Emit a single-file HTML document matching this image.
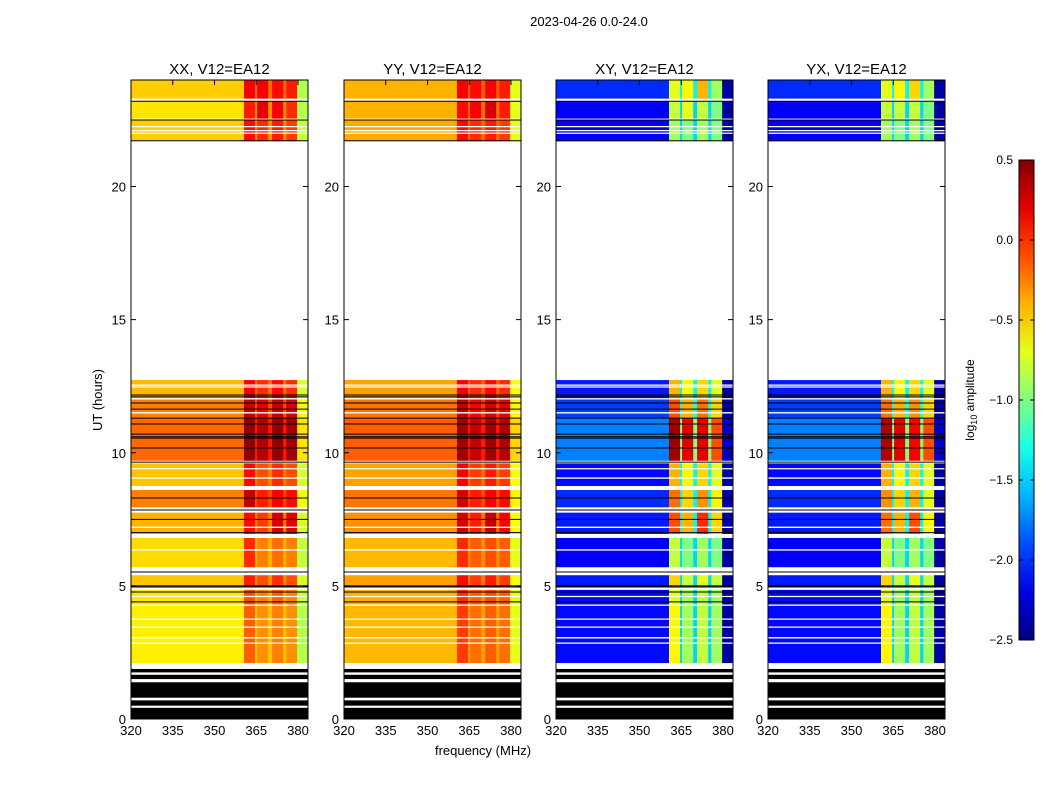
<!DOCTYPE html>
<html><head><meta charset="utf-8"><style>
body{margin:0;background:#fff;}
svg{display:block;font-family:"Liberation Sans",sans-serif;}
</style></head><body>
<svg id="chart" width="1050" height="800" viewBox="0 0 1050 800" xmlns="http://www.w3.org/2000/svg">
<rect width="1050" height="800" fill="#fff"/>
<text x="589" y="26" font-size="13" text-anchor="middle">2023-04-26 0.0-24.0</text>
<text x="102" y="400" font-size="13" text-anchor="middle" transform="rotate(-90 102 400)">UT (hours)</text>
<text x="483" y="755" font-size="13" text-anchor="middle">frequency (MHz)</text>
<g id="panels"></g>
<defs><linearGradient id="jetgrad" x1="0" y1="1" x2="0" y2="0"></linearGradient></defs>
<g id="cbar"></g>
</svg>
<script>
const panelTitles = ["XX, V12=EA12","YY, V12=EA12","XY, V12=EA12","YX, V12=EA12"];
const freqEdges = [320,360.6,364.6,365.3,369.3,370.7,374.7,375.8,379.7,383.6];
const segStart = [2.1,4.3,4.95,5.7,6.95,7.95,8.75,9.7,11.3,12.05,21.7,22.55,23.3];
const segEnd   = [4.25,4.85,5.4,6.8,7.75,8.6,9.6,11.3,12.0,12.73,22.5,23.2,24.0];
const valsXX = [
[-0.58,-0.15,-0.45,-0.3,-0.45,-0.25,-0.45,-0.3,-0.85],
[-0.55,-0.1,-0.4,-0.25,-0.4,-0.15,-0.4,-0.25,-0.8],
[-0.45,0.05,-0.3,-0.1,-0.3,0.0,-0.3,-0.1,-0.75],
[-0.52,0.0,-0.4,-0.25,-0.4,-0.2,-0.4,-0.25,-0.8],
[-0.4,0.1,-0.25,-0.05,-0.25,0.25,-0.25,0.2,-0.75],
[-0.25,0.3,-0.1,0.05,-0.1,0.15,-0.1,0.1,-0.65],
[-0.45,0.1,-0.25,-0.1,-0.25,0.0,-0.25,-0.1,-0.75],
[-0.18,0.45,0.05,0.35,0.05,0.45,0.05,0.4,-0.55],
[-0.25,0.3,-0.1,0.2,-0.1,0.3,-0.1,0.25,-0.65],
[-0.42,0.15,-0.2,0.0,-0.2,0.1,-0.2,0.0,-0.75],
[-0.48,0.1,-0.3,0.0,-0.3,0.05,-0.3,-0.05,-0.8],
[-0.55,0.05,-0.3,0.2,-0.3,0.15,-0.3,0.0,-0.85],
[-0.48,0.15,-0.2,0.15,-0.2,0.1,-0.2,0.05,-0.85]];
const valsYY = [
[-0.42,-0.05,-0.35,-0.2,-0.35,-0.15,-0.35,-0.2,-0.7],
[-0.4,0.0,-0.3,-0.15,-0.3,-0.1,-0.3,-0.15,-0.7],
[-0.35,0.1,-0.25,-0.05,-0.25,0.05,-0.25,-0.05,-0.65],
[-0.42,0.0,-0.3,-0.15,-0.3,-0.1,-0.3,-0.15,-0.7],
[-0.3,0.25,-0.2,0.05,-0.2,0.3,-0.2,0.15,-0.65],
[-0.22,0.25,-0.1,0.05,-0.1,0.15,-0.1,0.1,-0.6],
[-0.35,0.15,-0.2,-0.05,-0.2,0.05,-0.2,-0.05,-0.65],
[-0.15,0.4,0.05,0.3,0.05,0.4,0.05,0.35,-0.5],
[-0.22,0.3,-0.05,0.15,-0.05,0.25,-0.05,0.2,-0.6],
[-0.35,0.15,-0.15,0.0,-0.15,0.1,-0.15,0.0,-0.65],
[-0.38,0.1,-0.2,0.0,-0.2,0.05,-0.2,-0.05,-0.7],
[-0.4,0.1,-0.2,0.15,-0.2,0.25,-0.2,0.05,-0.7],
[-0.4,0.15,-0.15,0.1,-0.15,0.15,-0.15,0.05,-0.7]];
const valsXY = [
[-2.1,-0.6,-1.5,-0.9,-1.5,-0.8,-1.5,-0.9,-2.4],
[-2.1,-0.7,-1.5,-0.9,-1.5,-0.8,-1.5,-0.9,-2.4],
[-2.05,-0.5,-1.5,-0.8,-1.5,-0.7,-1.5,-0.8,-2.4],
[-2.15,-0.8,-1.5,-1.0,-1.5,-0.9,-1.5,-1.0,-2.4],
[-2.05,-0.1,-1.4,-0.4,-1.4,0.0,-1.4,-0.5,-2.4],
[-2.0,-0.2,-1.4,-0.5,-1.4,-0.3,-1.4,-0.6,-2.4],
[-2.1,-0.4,-1.4,-0.6,-1.4,-0.5,-1.4,-0.7,-2.4],
[-1.75,0.4,-1.0,0.2,-1.0,0.2,-1.0,-0.1,-2.3],
[-1.95,-0.1,-1.3,-0.4,-1.3,-0.2,-1.3,-0.5,-2.4],
[-2.05,-0.4,-1.4,-0.6,-1.4,-0.5,-1.4,-0.7,-2.4],
[-2.15,-0.9,-1.5,-1.0,-1.5,-0.9,-1.5,-1.0,-2.4],
[-2.15,-0.8,-1.5,-0.7,-1.5,-0.8,-1.5,-1.0,-2.4],
[-2.0,-0.7,-1.4,-0.6,-1.4,-0.4,-1.4,-0.9,-2.4]];
const valsYX = [
[-2.1,-0.6,-1.5,-0.9,-1.5,-0.8,-1.5,-0.9,-2.4],
[-2.1,-0.7,-1.5,-0.9,-1.5,-0.8,-1.5,-0.9,-2.4],
[-2.05,-0.5,-1.5,-0.8,-1.5,-0.7,-1.5,-0.8,-2.4],
[-2.15,-0.8,-1.5,-1.0,-1.5,-0.9,-1.5,-1.0,-2.4],
[-2.05,-0.2,-1.4,-0.4,-1.4,-0.1,-1.4,-0.6,-2.4],
[-2.0,-0.3,-1.4,-0.5,-1.4,-0.4,-1.4,-0.7,-2.4],
[-2.1,-0.4,-1.4,-0.6,-1.4,-0.5,-1.4,-0.7,-2.4],
[-1.75,0.35,-1.0,0.2,-1.0,0.15,-1.0,-0.1,-2.3],
[-1.95,-0.2,-1.3,-0.4,-1.3,-0.3,-1.3,-0.5,-2.4],
[-2.05,-0.4,-1.4,-0.6,-1.4,-0.5,-1.4,-0.7,-2.4],
[-2.15,-0.9,-1.5,-1.0,-1.5,-0.9,-1.5,-1.0,-2.4],
[-2.15,-0.8,-1.5,-0.8,-1.5,-0.8,-1.5,-1.0,-2.4],
[-2.0,-0.7,-1.4,-0.6,-1.4,-0.5,-1.4,-0.9,-2.4]];
const panelVals = [valsXX,valsYY,valsXY,valsYX];
const blackLines = [12.17,12.1,11.87,11.64,11.3,11.08,10.7,10.6,10.55,10.18,9.65,8.3,7.85,7.5,7.0,5.52,5.0,4.96,4.77,4.4,23.2,22.5,21.72];
const whiteLines = [12.54,12.47,11.5,9.4,9.05,7.2,6.35,4.6,3.75,3.45,3.05,2.85,22.1,22.25,22.0];
const flagStart = [0,0.5,0.8,1.5,1.75];
const flagEnd   = [0.42,0.7,1.38,1.66,1.88];
const xTicks = [320,335,350,365,380];
const yTicks = [0,5,10,15,20];
const cbTicks = [0.5,0.0,-0.5,-1.0,-1.5,-2.0,-2.5];

const panelLeft = [131,344,556,768];
const PW = 177, PT = 80, PB = 719;
const NS = "http://www.w3.org/2000/svg";
function yS(h){return PB-(h/24)*(PB-PT);}
function xS(f,p){return panelLeft[p]+(f-320)/(383.6-320)*PW;}
function clamp(v){return Math.max(0,Math.min(1,v));}
function jet(v){const t=clamp((v+2.5)/3);
 const r=clamp(1.5-Math.abs(4*t-3)),g=clamp(1.5-Math.abs(4*t-2)),b=clamp(1.5-Math.abs(4*t-1));
 return `rgb(${Math.round(r*255)},${Math.round(g*255)},${Math.round(b*255)})`;}
function mk(tag,attrs,parent){const e=document.createElementNS(NS,tag);for(const k in attrs)e.setAttribute(k,attrs[k]);parent.appendChild(e);return e;}
const G=document.getElementById('panels');
for(let p=0;p<4;p++){
 const g=mk('g',{},G);
 
 
 const vals=panelVals[p];
 for(let s=0;s<segStart.length;s++){
  for(let c=0;c<freqEdges.length-1;c++){
   const x0=xS(freqEdges[c],p),x1=xS(freqEdges[c+1],p);
   const r=mk('rect',{x:x0,y:yS(segEnd[s]),width:x1-x0+0.3,height:yS(segStart[s])-yS(segEnd[s]),fill:jet(vals[s][c])},g);
   
   
  }
 }
 for(let i=0;i<flagStart.length;i++){
  const r=mk('rect',{x:panelLeft[p],y:yS(flagEnd[i]),width:PW,height:yS(flagStart[i])-yS(flagEnd[i]),fill:'#000'},g);
  
  
 }
 for(const h of whiteLines){const l=mk('line',{x1:panelLeft[p],x2:panelLeft[p]+PW,y1:yS(h),y2:yS(h),stroke:'#fff','stroke-width':1.3},g);
  
  }
 for(const h of blackLines){const l=mk('line',{x1:panelLeft[p],x2:panelLeft[p]+PW,y1:yS(h),y2:yS(h),stroke:'#000','stroke-width':1},g);
  
  }
 const fr=mk('rect',{x:panelLeft[p],y:PT,width:PW,height:PB-PT,fill:'none',stroke:'#000','stroke-width':1},g);
 
 
 const t=mk('text',{x:panelLeft[p]+PW/2,y:74,'font-size':15,'text-anchor':'middle'},g);t.textContent=panelTitles[p];
 
 
 for(const f of xTicks){const x=xS(f,p);
  mk('line',{x1:x,x2:x,y1:PB,y2:PB-5,stroke:'#000'},g);
  mk('line',{x1:x,x2:x,y1:PT,y2:PT+5,stroke:'#000'},g);
  const tl=mk('text',{x:x,y:PB+16,'font-size':13,'text-anchor':'middle'},g);tl.textContent=f;
  
  }
 for(const h of yTicks){const y=yS(h);
  mk('line',{x1:panelLeft[p],x2:panelLeft[p]+5,y1:y,y2:y,stroke:'#000'},g);
  mk('line',{x1:panelLeft[p]+PW,x2:panelLeft[p]+PW-5,y1:y,y2:y,stroke:'#000'},g);
  const tl=mk('text',{x:panelLeft[p]-5,y:y+5,'font-size':13,'text-anchor':'end'},g);tl.textContent=h;
  
  }
}
const grad=document.getElementById('jetgrad');
for(let i=0;i<=10;i++){mk('stop',{offset:i/10,'stop-color':jet(-2.5+3*i/10)},grad);}
const CB=document.getElementById('cbar');
const cbT=160,cbB=640,cbX=1019,cbW=15;
mk('rect',{x:cbX,y:cbT,width:cbW,height:cbB-cbT,fill:'url(#jetgrad)',stroke:'#000','stroke-width':1},CB);
for(const v of cbTicks){const y=cbB-(v+2.5)/3*(cbB-cbT);
 mk('line',{x1:cbX,x2:cbX+4,y1:y,y2:y,stroke:'#000'},CB);
 mk('line',{x1:cbX+cbW,x2:cbX+cbW-4,y1:y,y2:y,stroke:'#000'},CB);
 const t=mk('text',{x:cbX-6,y:y+4,'font-size':12,'text-anchor':'end'},CB);
 t.textContent=(v<0?'\u2212':'')+Math.abs(v).toFixed(1);
 
 }
const cl=mk('text',{x:974,y:400,'font-size':12,'text-anchor':'middle',transform:'rotate(-90 974 400)'},CB);
cl.innerHTML='log<tspan font-size="9" dy="3">10</tspan><tspan dy="-3"> amplitude</tspan>';


</script>
</body></html>
